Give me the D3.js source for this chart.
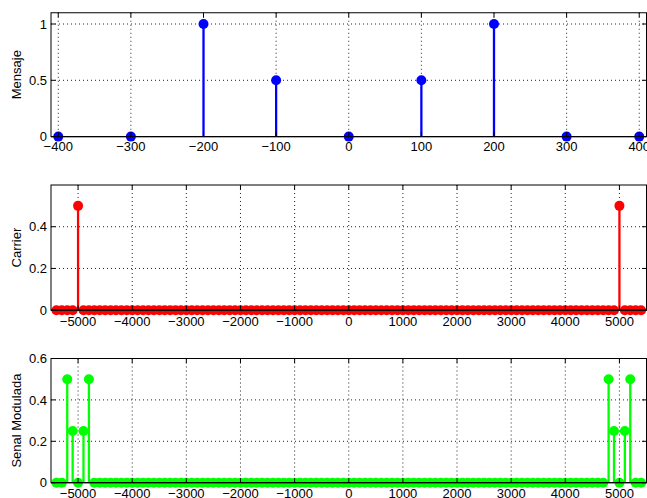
<!DOCTYPE html>
<html>
<head>
<meta charset="utf-8">
<script src="https://cdn.jsdelivr.net/npm/d3@7"></script>
<style>
  body { margin: 0; background: #fff; }
  text { font-family: "Liberation Sans", Arial, sans-serif; font-size: 13px; fill: #000; }
</style>
</head>
<body>
<svg id="chart" width="647" height="498"></svg>
<script>
// message spectrum
const msgFreq = [-400, -300, -200, -100, 0, 100, 200, 300, 400];
const msgVal = [0, 0, 1, 0.5, 0, 0.5, 1, 0, 0];

// frequency bins for carrier / modulated signal
const freqs = [
  -5400, -5300, -5200, -5100, -5000, -4900, -4800, -4700, -4600, -4500,
  -4400, -4300, -4200, -4100, -4000, -3900, -3800, -3700, -3600, -3500,
  -3400, -3300, -3200, -3100, -3000, -2900, -2800, -2700, -2600, -2500,
  -2400, -2300, -2200, -2100, -2000, -1900, -1800, -1700, -1600, -1500,
  -1400, -1300, -1200, -1100, -1000, -900, -800, -700, -600, -500,
  -400, -300, -200, -100, 0, 100, 200, 300, 400, 500,
  600, 700, 800, 900, 1000, 1100, 1200, 1300, 1400, 1500,
  1600, 1700, 1800, 1900, 2000, 2100, 2200, 2300, 2400, 2500,
  2600, 2700, 2800, 2900, 3000, 3100, 3200, 3300, 3400, 3500,
  3600, 3700, 3800, 3900, 4000, 4100, 4200, 4300, 4400, 4500,
  4600, 4700, 4800, 4900, 5000, 5100, 5200, 5300, 5400
];

const carrierVal = [
  0, 0, 0, 0, 0.5, 0, 0, 0, 0, 0,
  0, 0, 0, 0, 0, 0, 0, 0, 0, 0,
  0, 0, 0, 0, 0, 0, 0, 0, 0, 0,
  0, 0, 0, 0, 0, 0, 0, 0, 0, 0,
  0, 0, 0, 0, 0, 0, 0, 0, 0, 0,
  0, 0, 0, 0, 0, 0, 0, 0, 0, 0,
  0, 0, 0, 0, 0, 0, 0, 0, 0, 0,
  0, 0, 0, 0, 0, 0, 0, 0, 0, 0,
  0, 0, 0, 0, 0, 0, 0, 0, 0, 0,
  0, 0, 0, 0, 0, 0, 0, 0, 0, 0,
  0, 0, 0, 0, 0.5, 0, 0, 0, 0
];

const modVal = [
  0, 0, 0.5, 0.25, 0, 0.25, 0.5, 0, 0, 0,
  0, 0, 0, 0, 0, 0, 0, 0, 0, 0,
  0, 0, 0, 0, 0, 0, 0, 0, 0, 0,
  0, 0, 0, 0, 0, 0, 0, 0, 0, 0,
  0, 0, 0, 0, 0, 0, 0, 0, 0, 0,
  0, 0, 0, 0, 0, 0, 0, 0, 0, 0,
  0, 0, 0, 0, 0, 0, 0, 0, 0, 0,
  0, 0, 0, 0, 0, 0, 0, 0, 0, 0,
  0, 0, 0, 0, 0, 0, 0, 0, 0, 0,
  0, 0, 0, 0, 0, 0, 0, 0, 0, 0,
  0, 0, 0.5, 0.25, 0, 0.25, 0.5, 0, 0
];

// tick labels
const msgXTicks = [-400, -300, -200, -100, 0, 100, 200, 300, 400];
const msgYTicks = [0, 0.5, 1];
const wideXTicks = [-5000, -4000, -3000, -2000, -1000, 0, 1000, 2000, 3000, 4000, 5000];
const carrierYTicks = [0, 0.2, 0.4];
const modYTicks = [0, 0.2, 0.4, 0.6];

const svg = d3.select('#chart');
const left = 51, right = 646.5, tickLen = 4.5;

function stemPlot(opts) {
  const x = d3.scaleLinear().domain(opts.xDomain).range([left, right]);
  const y = d3.scaleLinear().domain(opts.yDomain).range([opts.bottom, opts.top]);
  const g = svg.append('g');
  const pts = opts.xs.map((d, i) => ({ f: d, v: opts.ys[i] }));

  // dotted grid
  g.selectAll('.gx').data(opts.xTicks).enter().append('line')
    .attr('x1', d => x(d)).attr('x2', d => x(d))
    .attr('y1', opts.top).attr('y2', opts.bottom)
    .attr('stroke', '#222').attr('stroke-width', 1).attr('stroke-dasharray', '1,3');
  g.selectAll('.gy').data(opts.yTicks.filter(d => d !== 0)).enter().append('line')
    .attr('x1', left).attr('x2', right)
    .attr('y1', d => y(d)).attr('y2', d => y(d))
    .attr('stroke', '#222').attr('stroke-width', 1).attr('stroke-dasharray', '1,3');

  const drawBase = () => g.append('line')
    .attr('x1', left).attr('x2', right).attr('y1', y(0)).attr('y2', y(0))
    .attr('stroke', '#000').attr('stroke-width', 1.2);

  if (!opts.baseOnTop) drawBase();

  // stems
  g.selectAll('.stem').data(pts.filter(p => p.v !== 0)).enter().append('line')
    .attr('x1', d => x(d.f)).attr('x2', d => x(d.f))
    .attr('y1', y(0)).attr('y2', d => y(d.v))
    .attr('stroke', opts.color).attr('stroke-width', 2.3);

  // markers
  g.selectAll('.dot').data(pts).enter().append('circle')
    .attr('cx', d => x(d.f)).attr('cy', d => y(d.v)).attr('r', 5)
    .attr('fill', opts.color);

  if (opts.baseOnTop) drawBase();

  // box
  g.append('rect')
    .attr('x', left).attr('y', opts.top)
    .attr('width', right - left).attr('height', opts.bottom - opts.top)
    .attr('fill', 'none').attr('stroke', '#000').attr('stroke-width', 1);

  // inward ticks on all sides
  opts.xTicks.forEach(t => {
    g.append('line').attr('x1', x(t)).attr('x2', x(t))
      .attr('y1', opts.bottom).attr('y2', opts.bottom - tickLen).attr('stroke', '#000');
    g.append('line').attr('x1', x(t)).attr('x2', x(t))
      .attr('y1', opts.top).attr('y2', opts.top + tickLen).attr('stroke', '#000');
  });
  opts.yTicks.forEach(t => {
    g.append('line').attr('x1', left).attr('x2', left + tickLen)
      .attr('y1', y(t)).attr('y2', y(t)).attr('stroke', '#000');
    g.append('line').attr('x1', right).attr('x2', right - tickLen)
      .attr('y1', y(t)).attr('y2', y(t)).attr('stroke', '#000');
  });

  // tick labels
  const fmt = d3.format('');
  g.selectAll('.xl').data(opts.xTicks).enter().append('text')
    .attr('x', d => x(d)).attr('y', opts.bottom + opts.xLabelOff)
    .attr('text-anchor', 'middle').text(d => fmt(d));
  g.selectAll('.yl').data(opts.yTicks).enter().append('text')
    .attr('x', left - 4).attr('y', d => y(d) + 4.6)
    .attr('text-anchor', 'end').text(d => fmt(d));

  g.append('text')
    .attr('transform', `translate(20.5,${(opts.top + opts.bottom) / 2}) rotate(-90)`)
    .attr('text-anchor', 'middle').text(opts.label);
}

stemPlot({
  xs: msgFreq, ys: msgVal, color: '#0000ff', label: 'Mensaje',
  xDomain: [-410, 410], yDomain: [0, 1.1], top: 12.75, bottom: 136.6,
  xTicks: msgXTicks, yTicks: msgYTicks, baseOnTop: false, xLabelOff: 14
});

stemPlot({
  xs: freqs, ys: carrierVal, color: '#ff0000', label: 'Carrier',
  xDomain: [-5500, 5500], yDomain: [0, 0.6], top: 185, bottom: 310.2,
  xTicks: wideXTicks, yTicks: carrierYTicks, baseOnTop: true, xLabelOff: 15.5
});

stemPlot({
  xs: freqs, ys: modVal, color: '#00ff00', label: 'Senal Modulada',
  xDomain: [-5500, 5500], yDomain: [0, 0.6], top: 358.5, bottom: 482.7,
  xTicks: wideXTicks, yTicks: modYTicks, baseOnTop: true, xLabelOff: 15.5
});
</script>
</body>
</html>
